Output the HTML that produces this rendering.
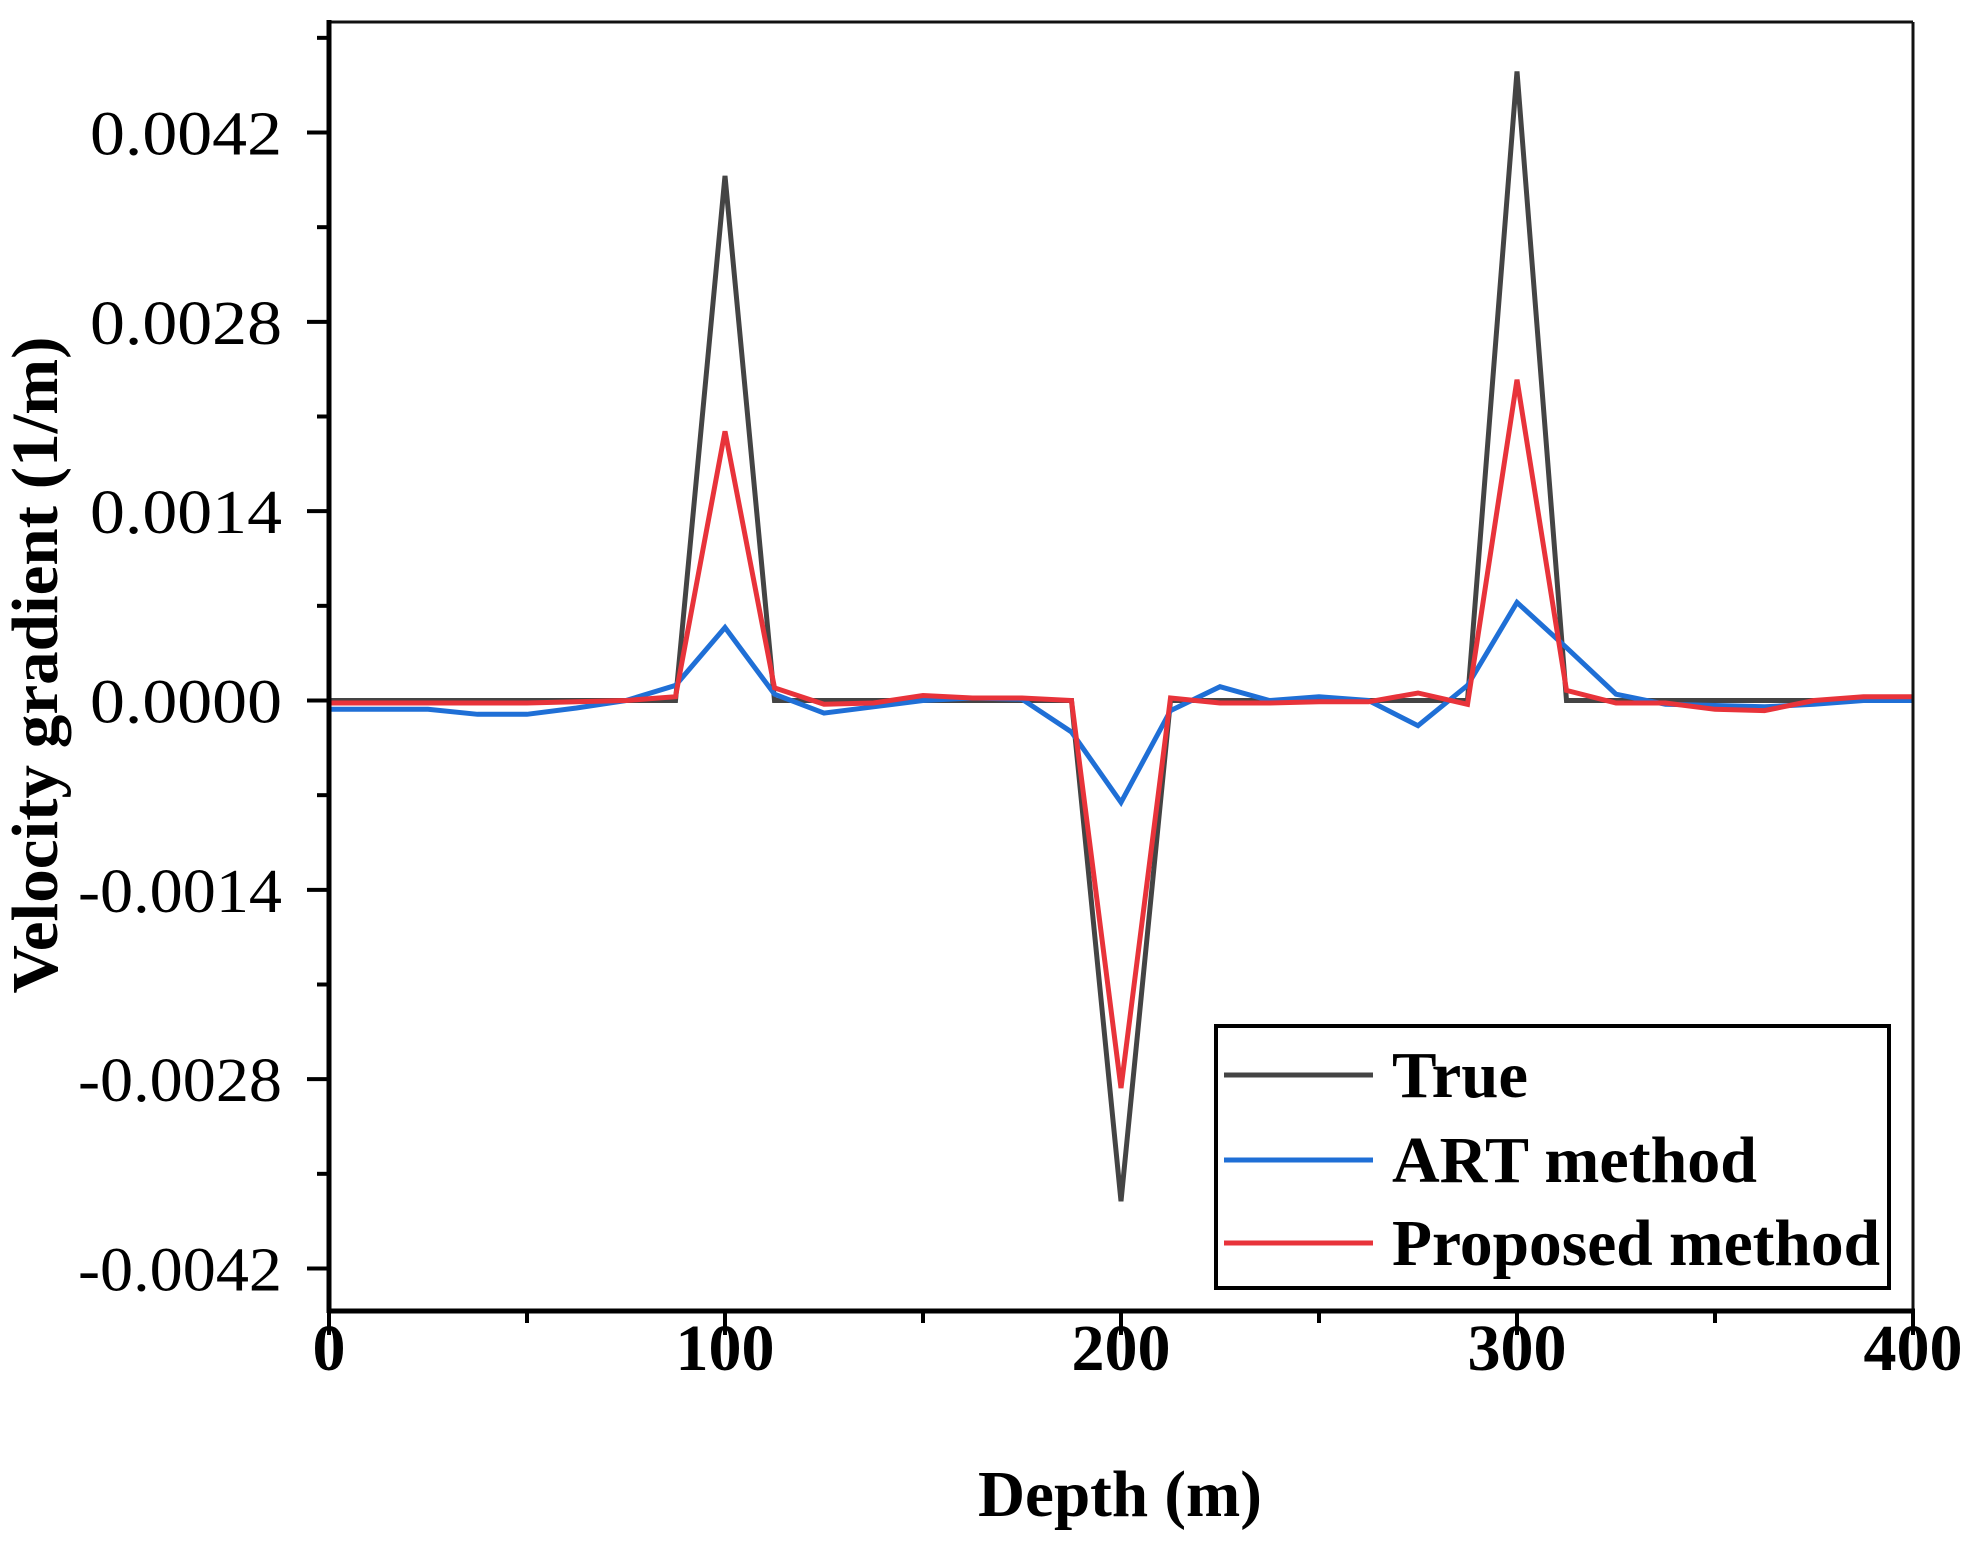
<!DOCTYPE html>
<html><head><meta charset="utf-8"><style>
html,body{margin:0;padding:0;background:#fff;}
svg{display:block;}
</style></head><body>
<svg id="s" width="1972" height="1541" xmlns="http://www.w3.org/2000/svg">
<rect width="1972" height="1541" fill="#fff"/>
<g id="data" fill="none" stroke-linejoin="miter" stroke-width="5"></g>
<line x1="329" y1="22" x2="1913" y2="22" stroke="#111" stroke-width="3"/>
<line x1="1913" y1="22" x2="1913" y2="1311" stroke="#111" stroke-width="3"/>
<line x1="329" y1="20" x2="329" y2="1313" stroke="#000" stroke-width="5"/>
<line x1="327" y1="1311" x2="1915" y2="1311" stroke="#000" stroke-width="5"/>
<g id="ticks" stroke="#000" stroke-width="4"></g>
<g font-family="'Liberation Serif',serif" font-size="62" fill="#000" text-anchor="end" id="ylab"></g>
<g font-family="'Liberation Serif',serif" font-size="66" font-weight="bold" fill="#000" text-anchor="middle">
<text x="329" y="1370">0</text><text x="725" y="1370">100</text><text x="1121" y="1370">200</text><text x="1517" y="1370">300</text><text x="1913" y="1370">400</text>
<text x="1120" y="1516" textLength="284" lengthAdjust="spacingAndGlyphs">Depth (m)</text>
<text transform="translate(57,665) rotate(-90)" textLength="657" lengthAdjust="spacingAndGlyphs">Velocity gradient (1/m)</text>
</g>
<rect x="1216" y="1026" width="673" height="262" fill="#fff" stroke="#000" stroke-width="4"/>
<line x1="1224" y1="1075" x2="1373" y2="1075" stroke="#444" stroke-width="5"/>
<line x1="1224" y1="1160" x2="1373" y2="1160" stroke="#1f6fd6" stroke-width="5"/>
<line x1="1224" y1="1243" x2="1373" y2="1243" stroke="#e8333a" stroke-width="5"/>
<g font-family="'Liberation Serif',serif" font-size="66" font-weight="bold" fill="#000">
<text x="1392" y="1097" textLength="136" lengthAdjust="spacingAndGlyphs">True</text>
<text x="1392" y="1182" textLength="365" lengthAdjust="spacingAndGlyphs">ART method</text>
<text x="1392" y="1265" textLength="488" lengthAdjust="spacingAndGlyphs">Proposed method</text>
</g>
</svg>
<script>
var NS="http://www.w3.org/2000/svg";
var x0=329,sx=396/100,y0=700.5,k=1.258;
var tr=new Array(33).fill(0);tr[8]=-417;tr[16]=398;tr[24]=-500;
var bl=[7,7,7,11,11,6,0,-12,-58,-5,10,5,0,-2,-1,25,81,8,-11,0,-3,0,20,-12,-78,-42,-5,3,4,5,3,0,0];
var rd=[2,2,2,2,2,1,0,-3,-214,-10,3,2,-4,-2,-2,0,308,-2,2,2,1,1,-6,3,-255,-8,2,2,7,8,0,-3,-3];
function path(a,c){
 var d="";
 for(var i=0;i<a.length;i++){d+=(i?"L":"M")+(x0+i*12.5*sx).toFixed(1)+","+(y0+a[i]*k).toFixed(1);}
 var p=document.createElementNS(NS,"path");p.setAttribute("d",d);p.setAttribute("stroke",c);
 document.getElementById("data").appendChild(p);
}
path(tr,"#444");path(bl,"#1f6fd6");path(rd,"#e8333a");
var T=document.getElementById("ticks"),L=document.getElementById("ylab");
function ln(a,b,c,d){var l=document.createElementNS(NS,"line");l.setAttribute("x1",a);l.setAttribute("y1",b);l.setAttribute("x2",c);l.setAttribute("y2",d);T.appendChild(l);}
var step=189.33;
var labs={"-3":"0.0042","-2":"0.0028","-1":"0.0014","0":"0.0000","1":"-0.0014","2":"-0.0028","3":"-0.0042"};
for(var j=-3;j<=3;j++){
 var y=y0+j*step;ln(307,y,329,y);
 var t=document.createElementNS(NS,"text");t.setAttribute("x","282");t.setAttribute("y",(y+22).toFixed(1));
 t.setAttribute("textLength",j>0?"204":"192");t.setAttribute("lengthAdjust","spacingAndGlyphs");
 t.textContent=labs[j];L.appendChild(t);
}
for(var j=-3.5;j<=2.5;j+=1){var y=y0+j*step;if(y>25&&y<1308)ln(317,y,329,y);}
for(var i=0;i<=8;i++){var x=x0+i*50*sx;ln(x,1311,x,i%2?1323:1335);}
</script>
</body></html>
